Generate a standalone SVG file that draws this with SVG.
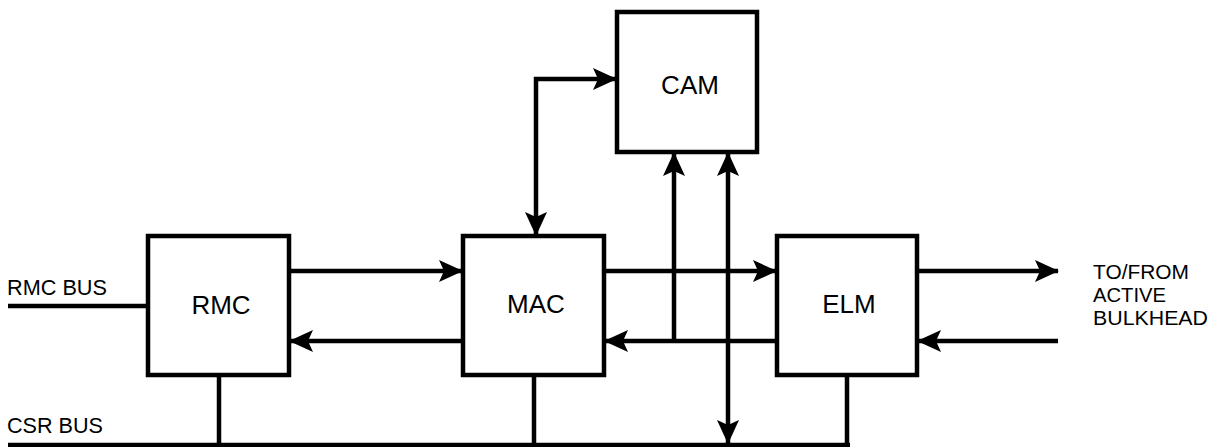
<svg xmlns="http://www.w3.org/2000/svg" width="1211" height="447" viewBox="0 0 1211 447">
<style>
.box{fill:#fff;stroke:#000;stroke-width:4.5}
.ln{fill:none;stroke:#000;stroke-width:4.5}
.arr{marker-end:url(#ah)}
.lbl{font-family:"Liberation Sans",Arial,sans-serif;font-size:26px;fill:#000;text-anchor:middle}
.side{font-family:"Liberation Sans",Arial,sans-serif;font-size:22px;fill:#000}
.bh{font-family:"Liberation Sans",Arial,sans-serif;font-size:20px;fill:#000}
</style>
<defs>
<marker id="ah" viewBox="0 0 24 22" refX="23" refY="11" markerWidth="24" markerHeight="22" markerUnits="userSpaceOnUse" orient="auto-start-reverse">
<path d="M0,0 L24,11 L0,22 L5,11 z" fill="#000"/>
</marker>
</defs>
<rect width="1211" height="447" fill="#fff"/>
<g id="connectors">
<line class="ln" x1="8" y1="306" x2="148" y2="306"/>
<line class="ln" x1="8" y1="445" x2="850" y2="445"/>
<line class="ln" x1="219" y1="375" x2="219" y2="445"/>
<line class="ln" x1="534" y1="375" x2="534" y2="445"/>
<line class="ln" x1="847" y1="375" x2="847" y2="445"/>
<line class="ln arr" x1="289" y1="271" x2="462" y2="271"/>
<line class="ln arr" x1="463" y1="341" x2="290" y2="341"/>
<line class="ln arr" x1="604" y1="271" x2="776" y2="271"/>
<line class="ln arr" x1="777" y1="341" x2="605" y2="341"/>
<line class="ln arr" x1="917" y1="271" x2="1058" y2="271"/>
<line class="ln arr" x1="1058" y1="341" x2="918" y2="341"/>
<path class="ln" d="M536,235 L536,79 L616,79" marker-start="url(#ah)" marker-end="url(#ah)"/>
<line class="ln arr" x1="674" y1="341" x2="674" y2="153"/>
<line class="ln" x1="728" y1="443" x2="728" y2="153" marker-start="url(#ah)" marker-end="url(#ah)"/>
</g>
<g id="rmc">
<rect class="box" x="148" y="236" width="141" height="139"/>
<text class="lbl" x="221" y="314">RMC</text>
</g>
<g id="mac">
<rect class="box" x="463" y="236" width="141" height="139"/>
<text class="lbl" x="536" y="313">MAC</text>
</g>
<g id="cam">
<rect class="box" x="617" y="12" width="140" height="140"/>
<text class="lbl" x="690" y="94">CAM</text>
</g>
<g id="elm">
<rect class="box" x="777" y="236" width="140" height="139"/>
<text class="lbl" x="849" y="313">ELM</text>
</g>
<g id="labels">
<text class="side" x="7" y="295" textLength="100" lengthAdjust="spacingAndGlyphs">RMC  BUS</text>
<text class="side" x="7" y="433" textLength="96" lengthAdjust="spacingAndGlyphs">CSR  BUS</text>
<text class="bh" x="1093" y="279" textLength="96" lengthAdjust="spacingAndGlyphs">TO/FROM</text>
<text class="bh" x="1093" y="302" textLength="73" lengthAdjust="spacingAndGlyphs">ACTIVE</text>
<text class="bh" x="1093" y="325" textLength="115" lengthAdjust="spacingAndGlyphs">BULKHEAD</text>
</g>
</svg>
